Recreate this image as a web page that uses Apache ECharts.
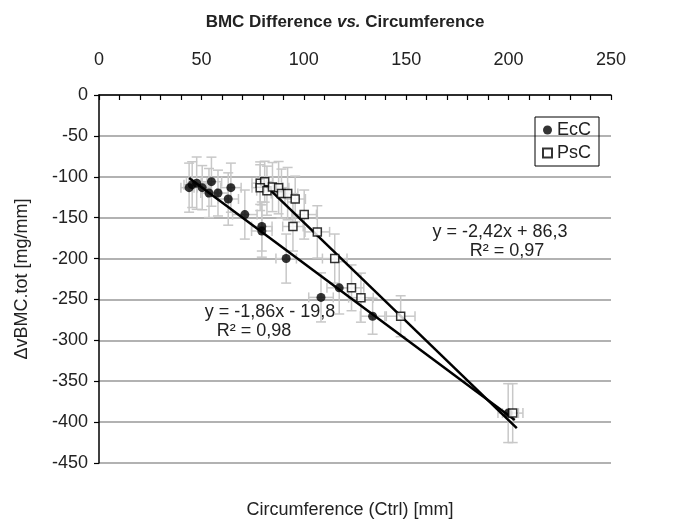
<!DOCTYPE html>
<html>
<head>
<meta charset="utf-8">
<script src="https://cdn.jsdelivr.net/npm/echarts@6/dist/echarts.min.js"></script>
<style>html,body{margin:0;padding:0;background:#fff}#c{width:677px;height:525px}</style>
</head>
<body>
<div id="c"></div>
<script>
// EcC (filled circles)
const ecX = [44.0,45.5,47.7,50.4,54.9,53.7,58.1,64.4,63.1,71.2,79.5,79.5,91.4,108.4,117.3,133.6,199.8];
const ecY = [-113.3,-109.6,-107.8,-113.3,-106,-119.9,-119.9,-113.3,-127.2,-146.2,-160.8,-166.3,-200,-247.5,-235.8,-270.5,-389];
const ecXErr = [4,4,5,4,5,4,5,5,5,6,5,5,5,6,6,6,5];
const ecYErr = [30,28,32,27,30,30,28,30,32,30,30,32,30,30,32,22,36];
// PsC (open squares)
const psX = [78.7,80.9,78.7,82,84.7,87.7,89.1,92.1,95.8,100.2,94.7,106.6,115.1,123.3,127.9,147.3,202];
const psY = [-107.8,-106,-113.3,-117,-112.6,-113.3,-120.6,-120.6,-127.2,-146.2,-160.8,-167.4,-200,-235.8,-247.8,-270.5,-389];
const psXErr = [4,4,4,5,5,5,5,5,5,6,5,6,6,6,6,7,5];
const psYErr = [26,25,28,30,30,32,30,32,28,30,30,32,30,28,30,25,36];
// Trend line end points
const ecTrend = [[44,-101.6],[203,-397.4]];
const psTrend = [[79,-104.9],[204,-407.4]];
const eqEc = ['y = -1,86x - 19,8', 'R\u00B2 = 0,98'];
const eqPs = ['y = -2,42x + 86,3', 'R\u00B2 = 0,97'];

const FONT = "'Liberation Sans', Arial, sans-serif";
const zip = (a,b) => a.map((v,i)=>[v,b[i]]);
const errData = (x,y,ex,ey) => x.map((v,i)=>[v,y[i],ex[i],ey[i]]);

function errRender(params, api){
  const x=api.value(0), y=api.value(1), ex=api.value(2), ey=api.value(3);
  const t=api.coord([x,y+ey]), b=api.coord([x,y-ey]);
  const l=api.coord([x-ex,y]), r=api.coord([x+ex,y]);
  const c=5, st={stroke:'#c8c8c8', lineWidth:1.5};
  const L=(x1,y1,x2,y2)=>({type:'line',shape:{x1,y1,x2,y2},style:st});
  return {type:'group',children:[
    L(t[0],t[1],b[0],b[1]), L(t[0]-c,t[1],t[0]+c,t[1]), L(b[0]-c,b[1],b[0]+c,b[1]),
    L(l[0],l[1],r[0],r[1]), L(l[0],l[1]-c,l[0],l[1]+c), L(r[0],r[1]-c,r[0],r[1]+c)
  ]};
}

const chart = echarts.init(document.getElementById('c'));
chart.setOption({
  animation:false,
  backgroundColor:'#fff',
  grid:{left:99,right:66,top:95,bottom:62},
  xAxis:{type:'value',position:'top',min:0,max:250,interval:10,
    axisLine:{lineStyle:{color:'#000',width:1.5}},
    axisTick:{inside:true,length:5,lineStyle:{color:'#000',width:1.2}},
    axisLabel:{margin:26,fontFamily:FONT,fontSize:18,color:'#222',formatter:v=>v%50===0?String(v):''},
    splitLine:{show:false}},
  yAxis:{type:'value',min:-450,max:0,interval:50,
    name:'\u0394vBMC.tot [mg/mm]',nameLocation:'middle',nameGap:68,nameRotate:90,
    nameTextStyle:{fontFamily:FONT,fontSize:18,color:'#222'},
    axisLine:{lineStyle:{color:'#000',width:1.5}},
    axisTick:{length:5,lineStyle:{color:'#000',width:1.2}},
    axisLabel:{margin:11,fontFamily:FONT,fontSize:18,color:'#222'},
    splitLine:{lineStyle:{color:'#999',width:1.5}}},
  legend:{data:['EcC','PsC'],orient:'vertical',left:535,top:117,
    borderColor:'#000',borderWidth:1,padding:[4,8,4,7],itemGap:5,itemWidth:9,itemHeight:9,
    textStyle:{fontFamily:FONT,fontSize:18,color:'#222'}},
  graphic:[
    {type:'text',x:345,y:22,style:{text:'{a|BMC Difference }{b|vs.}{a| Circumference}',align:'center',verticalAlign:'middle',
      rich:{a:{fontFamily:FONT,fontSize:17,fontWeight:'bold',fill:'#222'},b:{fontFamily:FONT,fontSize:17,fontWeight:'bold',fontStyle:'italic',fill:'#222'}}}},
    {type:'text',x:350,y:510,style:{text:'Circumference (Ctrl) [mm]',font:'18px '+FONT,fill:'#222',align:'center',verticalAlign:'middle'}},
    {type:'text',x:500,y:232,style:{text:eqPs[0],font:'18px '+FONT,fill:'#222',align:'center',verticalAlign:'middle'}},
    {type:'text',x:507,y:251,style:{text:eqPs[1],font:'18px '+FONT,fill:'#222',align:'center',verticalAlign:'middle'}},
    {type:'text',x:270,y:312,style:{text:eqEc[0],font:'18px '+FONT,fill:'#222',align:'center',verticalAlign:'middle'}},
    {type:'text',x:254,y:331,style:{text:eqEc[1],font:'18px '+FONT,fill:'#222',align:'center',verticalAlign:'middle'}}
  ],
  series:[
    {type:'custom',name:'ecErr',renderItem:errRender,data:errData(ecX,ecY,ecXErr,ecYErr),z:1,silent:true},
    {type:'custom',name:'psErr',renderItem:errRender,data:errData(psX,psY,psXErr,psYErr),z:1,silent:true},
    {type:'line',name:'ecTrend',data:ecTrend,symbol:'none',lineStyle:{color:'#000',width:2.5},z:3},
    {type:'line',name:'psTrend',data:psTrend,symbol:'none',lineStyle:{color:'#000',width:2.5},z:3},
    {type:'scatter',name:'EcC',data:zip(ecX,ecY),symbol:'circle',symbolSize:9,itemStyle:{color:'#000'},z:4},
    {type:'scatter',name:'PsC',data:zip(psX,psY),symbol:'rect',symbolSize:8,itemStyle:{color:'#fff',borderColor:'#000',borderWidth:1.5},z:4}
  ]
});
</script>
</body>
</html>
